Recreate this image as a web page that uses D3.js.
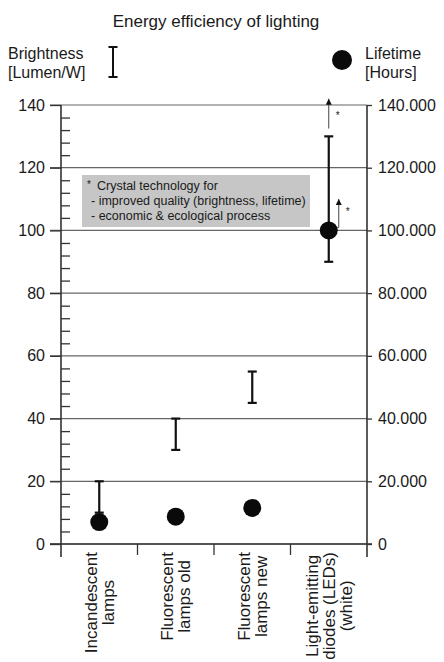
<!DOCTYPE html>
<html><head><meta charset="utf-8">
<script src="https://cdn.jsdelivr.net/npm/d3@7"></script>
<style>
body{margin:0;background:#fff}
svg{display:block}
text{font-family:"Liberation Sans",Arial,Helvetica,sans-serif;fill:#1a1a1a}
</style>
</head><body>
<svg id="c" width="444" height="662"></svg>
<script>
// ---- data ----
const categories = ["Incandescent lamps","Fluorescent lamps old","Fluorescent lamps new","Light-emitting diodes (LEDs) (white)"];
const categoryLines = [["Incandescent","lamps"],["Fluorescent","lamps old"],["Fluorescent","lamps new"],["Light-emitting","diodes (LEDs)","(white)"]];
const brightnessLow  = [10, 30, 45, 90];     // Lumen/W
const brightnessHigh = [20, 40, 55, 130];    // Lumen/W
const lifetimeHours  = [7000, 8700, 11500, 100000];
const leftTicks  = [0,20,40,60,80,100,120,140];
const rightTicks = [0,20000,40000,60000,80000,100000,120000,140000];
const minorTicks = [4,8,12,16,24,28,32,36,44,48,52,56,64,68,72,76,84,88,92,96,104,108,112,116,124,128,132,136];
const brightnessArrow = {cat: 3, from: 132.5, to: 142};
const lifetimeArrow   = {cat: 3, from: 101000, to: 110000};
const titleText = "Energy efficiency of lighting";
const legendLeft  = ["Brightness","[Lumen/W]"];
const legendRight = ["Lifetime","[Hours]"];
const noteLines = ["Crystal technology for","- improved quality (brightness, lifetime)","- economic & ecological process"];

// ---- layout ----
const X0 = 61, X1 = 367, YTOP = 105, YBOT = 544;
const svg = d3.select("#c");
const x  = d3.scaleBand().domain(categories).range([X0, X1]);
const yL = d3.scaleLinear().domain([0,140]).range([YBOT, YTOP]);
const yR = d3.scaleLinear().domain([0,140000]).range([YBOT, YTOP]);
const cx = i => x(categories[i]) + x.bandwidth()/2;

// title
svg.append("text").attr("x",216).attr("y",27).attr("text-anchor","middle")
  .style("font-size","17px").text(titleText);

// legend
const lg = svg.append("g").style("font-size","16px");
legendLeft.forEach((t,i)=>lg.append("text").attr("x",8).attr("y",59+i*18.6).text(t));
legendRight.forEach((t,i)=>lg.append("text").attr("x",365).attr("y",59+i*18.6).text(t));
const lb = svg.append("g").attr("stroke","#111").attr("stroke-width",2);
lb.append("line").attr("x1",113).attr("x2",113).attr("y1",47).attr("y2",77);
lb.append("line").attr("x1",108.5).attr("x2",117.5).attr("y1",47).attr("y2",47);
lb.append("line").attr("x1",108.5).attr("x2",117.5).attr("y1",77).attr("y2",77);
svg.append("circle").attr("cx",342).attr("cy",60).attr("r",10).attr("fill","#0a0a0a");

// note box
svg.append("rect").attr("x",82).attr("y",175).attr("width",228).attr("height",52).attr("fill","#c6c6c6");
const nt = svg.append("g").style("font-size","12.5px");
nt.append("text").attr("x",87).attr("y",188).style("font-size","10px").text("*");
nt.append("text").attr("x",97).attr("y",190).text(noteLines[0]);
nt.append("text").attr("x",91).attr("y",205).text(noteLines[1]);
nt.append("text").attr("x",91).attr("y",220).text(noteLines[2]);

// gridlines
svg.append("g").selectAll("line").data(leftTicks).join("line")
  .attr("x1",50).attr("x2",X1).attr("y1",d=>yL(d)).attr("y2",d=>yL(d))
  .attr("stroke","#666").attr("stroke-width",1.2);

// left axis
const ax = svg.append("g").attr("transform",`translate(${X0},0)`)
  .call(d3.axisLeft(yL).tickValues(leftTicks).tickSize(11).tickPadding(5));
ax.select(".domain").remove();
ax.selectAll("text").style("font-size","16px").style("font-family",null).attr("fill","#1a1a1a");
ax.selectAll("line").attr("stroke","#333").attr("stroke-width",1.3);
const mn = svg.append("g").attr("transform",`translate(${X0},0)`)
  .call(d3.axisRight(yL).tickValues(minorTicks).tickSize(9).tickFormat(""));
mn.select(".domain").remove();
mn.selectAll("line").attr("stroke","#333").attr("stroke-width",1.3);
svg.append("line").attr("x1",X0).attr("x2",X0).attr("y1",YTOP).attr("y2",YBOT+13)
  .attr("stroke","#333").attr("stroke-width",1.6);

// right axis
const fmtR = d => d===0 ? "0" : d3.format(",")(d).replace(/,/g,".");
const ar = svg.append("g").attr("transform",`translate(${X1},0)`)
  .call(d3.axisRight(yR).tickValues(rightTicks).tickSize(5).tickPadding(6).tickFormat(fmtR));
ar.select(".domain").remove();
ar.selectAll("text").style("font-size","16px").style("font-family",null).attr("fill","#1a1a1a");
ar.selectAll("line").attr("stroke","#333").attr("stroke-width",1.3);
svg.append("line").attr("x1",X1).attr("x2",X1).attr("y1",YTOP).attr("y2",YBOT+13)
  .attr("stroke","#333").attr("stroke-width",1.6);

// x axis line & category separators
svg.append("line").attr("x1",50).attr("x2",X1+5).attr("y1",yL(0)).attr("y2",yL(0))
  .attr("stroke","#333").attr("stroke-width",1.5);
svg.append("g").selectAll("line").data(categories.slice(1)).join("line")
  .attr("x1",d=>x(d)).attr("x2",d=>x(d)).attr("y1",yL(0)).attr("y2",yL(0)+11)
  .attr("stroke","#333").attr("stroke-width",1.3);

// category labels (rotated)
const LH = 17;
categoryLines.forEach((lines,i)=>{
  const g = svg.append("g").attr("transform",`translate(${cx(i)},552) rotate(-90)`).style("font-size","17px");
  const ts = lines.map((t,j)=>g.append("text").attr("y",(j-(lines.length-1)/2)*LH+6).text(t));
  const maxW = d3.max(ts, t=>t.node().getComputedTextLength());
  ts.forEach(t=>t.attr("x",-maxW/2).attr("text-anchor","middle"));
});

// error bars (brightness)
const eb = svg.append("g").attr("stroke","#111").attr("stroke-width",2.2);
categories.forEach((c,i)=>{
  const xc = cx(i);
  eb.append("line").attr("x1",xc).attr("x2",xc).attr("y1",yL(brightnessLow[i])).attr("y2",yL(brightnessHigh[i]));
  [brightnessLow[i],brightnessHigh[i]].forEach(v=>
    eb.append("line").attr("x1",xc-4.5).attr("x2",xc+4.5).attr("y1",yL(v)).attr("y2",yL(v)));
});

// arrows
const defs = svg.append("defs");
defs.append("marker").attr("id","ah").attr("viewBox","0 0 10 10").attr("refX",10).attr("refY",5)
  .attr("markerWidth",10).attr("markerHeight",6).attr("markerUnits","userSpaceOnUse").attr("orient","auto")
  .append("path").attr("d","M0,0 L10,5 L0,10 z").attr("fill","#111");
svg.append("line").attr("x1",cx(brightnessArrow.cat)).attr("x2",cx(brightnessArrow.cat))
  .attr("y1",yL(brightnessArrow.from)).attr("y2",yL(brightnessArrow.to))
  .attr("stroke","#444").attr("stroke-width",1).attr("marker-end","url(#ah)");
svg.append("text").attr("x",cx(brightnessArrow.cat)+7).attr("y",yL(brightnessArrow.to)+20)
  .style("font-size","10px").attr("fill","#111").text("*");
const lax = cx(lifetimeArrow.cat)+10;
svg.append("path")
  .attr("d",`M${cx(lifetimeArrow.cat)+5},${yR(lifetimeArrow.from)+2} L${lax},${yR(lifetimeArrow.from)} L${lax},${yR(lifetimeArrow.to)}`)
  .attr("fill","none").attr("stroke","#444").attr("stroke-width",1).attr("marker-end","url(#ah)");
svg.append("text").attr("x",lax+7).attr("y",yR(lifetimeArrow.to)+16)
  .style("font-size","10px").attr("fill","#111").text("*");

// lifetime dots
svg.append("g").selectAll("circle").data(lifetimeHours).join("circle")
  .attr("cx",(d,i)=>cx(i)).attr("cy",d=>yR(d)).attr("r",9).attr("fill","#0a0a0a");
</script>
</body></html>
